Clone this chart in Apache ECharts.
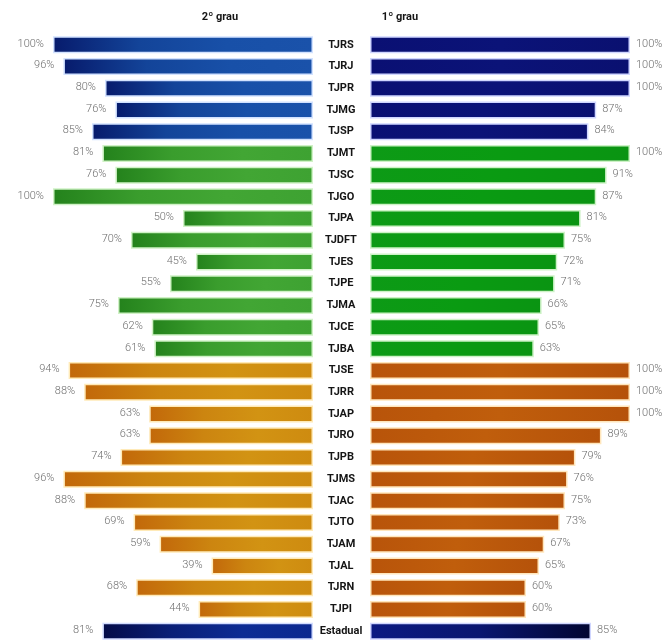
<!DOCTYPE html>
<html><head><meta charset="utf-8">
<script src="https://cdn.jsdelivr.net/npm/echarts@6/dist/echarts.min.js"></script>
<style>html,body{margin:0;padding:0;background:#fff}#c{width:668px;height:642px}</style>
</head><body><div id="c"></div>
<script>
const categories = ['TJRS','TJRJ','TJPR','TJMG','TJSP','TJMT','TJSC','TJGO','TJPA','TJDFT','TJES','TJPE','TJMA','TJCE','TJBA','TJSE','TJRR','TJAP','TJRO','TJPB','TJMS','TJAC','TJTO','TJAM','TJAL','TJRN','TJPI','Estadual'];
const grau2 = [100,96,80,76,85,81,76,100,50,70,45,55,75,62,61,94,88,63,63,74,96,88,69,59,39,68,44,81];
const grau1 = [100,100,100,87,84,100,91,87,81,75,72,71,66,65,63,100,100,100,89,79,76,75,73,67,65,60,60,85];
const groups = ['azul','azul','azul','azul','azul','verde','verde','verde','verde','verde','verde','verde','verde','verde','verde','laranja','laranja','laranja','laranja','laranja','laranja','laranja','laranja','laranja','laranja','laranja','laranja','estadual'];
const headers = ['2º grau','1º grau'];

function grad(stops){return {type:'linear',x:0,y:0,x2:1,y2:0,colorStops:stops.map((c,i)=>({offset:i/(stops.length-1),color:c}))};}
const leftStyle = {
  azul:{color:grad(['#071b6c','#134499','#1850a8','#1a52aa']),borderColor:'#d2e2ff'},
  verde:{color:grad(['#24821c','#3a9d2d','#42a634','#3ea232']),borderColor:'#d0f2c6'},
  laranja:{color:grad(['#c2680a','#cc8510','#d29313','#ce8b10']),borderColor:'#ffeab8'},
  estadual:{color:grad(['#040c48','#0a1f78','#0d2c94','#0b2890']),borderColor:'#d2dcff'}
};
const rightStyle = {
  azul:{color:grad(['#0a1073','#0b1378','#0a1070']),borderColor:'#d0d6ff'},
  verde:{color:grad(['#0d9a16','#0a9b12','#0a9412']),borderColor:'#cdf2c6'},
  laranja:{color:grad(['#b8540a','#c05e0c','#b5520a']),borderColor:'#ffe6bc'},
  estadual:{color:grad(['#0b1a82','#0a1670','#020632']),borderColor:'#d0d6ff'}
};
const leftData = grau2.map((v,i)=>({value:v,itemStyle:Object.assign({borderWidth:1.5},leftStyle[groups[i]])}));
const rightData = grau1.map((v,i)=>({value:v,itemStyle:Object.assign({borderWidth:1.5},rightStyle[groups[i]])}));

const chart = echarts.init(document.getElementById('c'),null,{renderer:'canvas'});
const labelStyle = {show:true,formatter:'{c}%',color:'#6e6e6e',fontSize:11,fontFamily:'Roboto',fontWeight:300,offset:[0,-1]};
chart.setOption({
  animation:false,
  grid:[{left:53,width:260,top:34,height:609},{left:370,width:260,top:34,height:609}],
  xAxis:[{gridIndex:0,type:'value',min:0,max:100,inverse:true,show:false},
         {gridIndex:1,type:'value',min:0,max:100,show:false}],
  yAxis:[{gridIndex:0,type:'category',data:categories,inverse:true,position:'right',
          axisLine:{show:false},axisTick:{show:false},
          axisLabel:{align:'center',margin:28,fontWeight:'bold',fontSize:11,fontFamily:'Roboto',color:'#151515'}},
         {gridIndex:1,type:'category',data:categories,inverse:true,show:false}],
  graphic:[
    {type:'text',x:220,y:17,style:{text:headers[0],textAlign:'center',textVerticalAlign:'middle',font:'bold 11px Roboto',fill:'#151515'}},
    {type:'text',x:400,y:17,style:{text:headers[1],textAlign:'center',textVerticalAlign:'middle',font:'bold 11px Roboto',fill:'#151515'}}
  ],
  series:[
    {type:'bar',xAxisIndex:0,yAxisIndex:0,data:leftData,barWidth:17,label:Object.assign({position:'left',distance:9},labelStyle)},
    {type:'bar',xAxisIndex:1,yAxisIndex:1,data:rightData,barWidth:17,label:Object.assign({position:'right',distance:6},labelStyle)}
  ]
});
</script></body></html>
